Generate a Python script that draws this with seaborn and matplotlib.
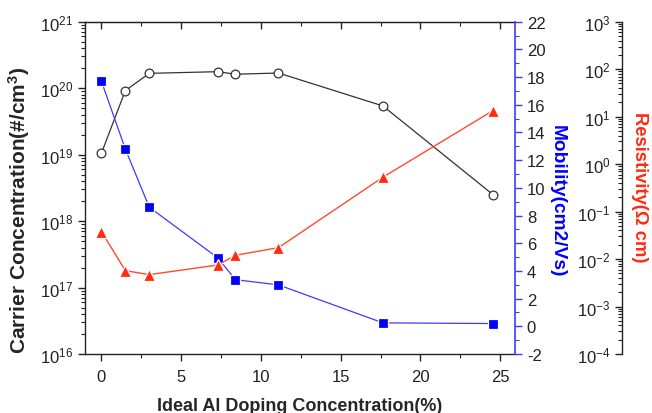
import numpy as np
import pandas as pd
import matplotlib
matplotlib.use("Agg")
import matplotlib.pyplot as plt
import matplotlib.ticker as mticker
import seaborn as sns

# ---- data ----
doping = [0, 1.5, 3, 7.3, 8.4, 11.1, 17.65, 24.55]
carrier = [1.05e19, 9.2e19, 1.67e20, 1.77e20, 1.62e20, 1.69e20, 5.4e19, 2.5e18]
mobility = [17.7, 12.8, 8.6, 4.94, 3.37, 2.99, 0.25, 0.2]
resistivity = [0.038, 0.0057, 0.0047, 0.0075, 0.012, 0.0174, 0.53, 13.4]
x_ticks = [0, 5, 10, 15, 20, 25]

df = pd.DataFrame({"doping": doping, "carrier": carrier,
                   "mobility": mobility, "resistivity": resistivity})

sns.set_style("ticks")
plt.rcParams["font.family"] = ["Liberation Sans", "DejaVu Sans"]
plt.rcParams["mathtext.fontset"] = "custom"
plt.rcParams["mathtext.rm"] = "Liberation Sans"
plt.rcParams["mathtext.bf"] = "Liberation Sans:bold"
plt.rcParams["axes.unicode_minus"] = False

BLUE = "#0000ff"
BLUE_LINE = "#3b3bff"
RED = "#ff2a10"
RED_LINE = "#ff4a30"
DARK = "#333333"
TXT = "#222222"

fig = plt.figure(figsize=(6.52, 4.14), dpi=100)
ax = fig.add_axes([85/652, 59/414, 430/652, 332.3/414])
ax2 = ax.twinx()
ax3 = ax.twinx()

# carrier concentration
sns.lineplot(data=df, x="doping", y="carrier", ax=ax, color=DARK, lw=0.9,
             marker="o", markersize=6.3, markerfacecolor="white",
             markeredgecolor=DARK, markeredgewidth=0.9)
# mobility
sns.lineplot(data=df, x="doping", y="mobility", ax=ax2, color=BLUE_LINE, lw=0.9,
             marker="s", markersize=6.8, markerfacecolor=BLUE,
             markeredgecolor="white", markeredgewidth=0.9)
# resistivity
sns.lineplot(data=df, x="doping", y="resistivity", ax=ax3, color=RED_LINE, lw=1.0,
             marker="^", markersize=8.3, markerfacecolor=RED,
             markeredgecolor="white", markeredgewidth=0.9)

# main axis
ax.set_xlim(-1.03, 25.93)
ax.set_yscale("log")
ax.set_ylim(1e16, 1e21)
ax.set_xticks(x_ticks)
ax.xaxis.set_minor_locator(mticker.MultipleLocator(2.5))
ax.yaxis.set_major_locator(mticker.LogLocator(base=10, numticks=10))
ax.yaxis.set_minor_locator(mticker.LogLocator(base=10, subs=np.arange(2, 10), numticks=20))
ax.yaxis.set_minor_formatter(mticker.NullFormatter())
for s in ["left", "bottom", "top"]:
    ax.spines[s].set_color(TXT)
    ax.spines[s].set_linewidth(1.0)
ax.spines["right"].set_visible(False)
ax.tick_params(axis="both", which="major", direction="out", length=5, width=1,
               labelsize=12, colors=TXT)
ax.tick_params(axis="both", which="minor", direction="out", length=3, width=0.8,
               colors=TXT)
ax.tick_params(axis="x", pad=6)
ax.set_xlabel("Ideal Al Doping Concentration(%)", fontsize=13, fontweight="bold")
ax.set_ylabel("Carrier Concentration(#/cm$\\mathbf{^3}$)", fontsize=15, fontweight="bold")
ax.xaxis.set_label_coords(0.5, -0.129)
ax.yaxis.set_label_coords(-0.124, 0.436)

top = ax.secondary_xaxis("top")
top.set_xticks(x_ticks)
top.xaxis.set_minor_locator(mticker.MultipleLocator(2.5))
top.tick_params(which="major", direction="in", length=5, width=1, labeltop=False, colors=TXT)
top.tick_params(which="minor", direction="in", length=3, width=0.8, labeltop=False, colors=TXT)
top.spines["top"].set_color(TXT)

# mobility axis
ax2.set_ylim(-2, 22)
ax2.yaxis.set_major_locator(mticker.MultipleLocator(2))
ax2.yaxis.set_minor_locator(mticker.MultipleLocator(1))
for s in ["left", "top", "bottom"]:
    ax2.spines[s].set_visible(False)
ax2.spines["right"].set_color(BLUE_LINE)
ax2.spines["right"].set_linewidth(1.2)
ax2.tick_params(axis="y", which="major", direction="out", length=5, width=1,
                color=BLUE_LINE, labelcolor=TXT, labelsize=12)
ax2.tick_params(axis="y", which="minor", direction="out", length=3, width=0.8,
                color=BLUE_LINE)
ax2.set_ylabel("Mobility(cm2/Vs)", fontsize=13.8, fontweight="bold", color=BLUE,
               rotation=-90)
ax2.yaxis.set_label_coords(1.118, 0.463)

# resistivity axis
ax3.set_yscale("log")
ax3.set_ylim(1e-4, 1e3)
for s in ["right", "top", "bottom"]:
    ax3.spines[s].set_visible(False)
ax3.spines["left"].set_visible(True)
ax3.spines["left"].set_position(("axes", 1.249))
ax3.spines["left"].set_color(TXT)
ax3.spines["left"].set_linewidth(1.0)
ax3.yaxis.set_ticks_position("left")
ax3.yaxis.set_major_locator(mticker.LogLocator(base=10, numticks=12))
ax3.yaxis.set_minor_locator(mticker.LogLocator(base=10, subs=np.arange(2, 10), numticks=30))
ax3.yaxis.set_minor_formatter(mticker.NullFormatter())
ax3.tick_params(axis="y", which="major", direction="out", length=5, width=1,
                labelsize=12, colors=TXT)
ax3.tick_params(axis="y", which="minor", direction="out", length=3, width=0.8,
                colors=TXT)
ax3.yaxis.set_label_position("right")
ax3.set_ylabel("Resistivity(Ω cm)", fontsize=13.2, fontweight="bold", color=RED,
               rotation=-90)
ax3.yaxis.set_label_coords(1.31, 0.506)

ax2.set_xlabel("")
ax3.set_xlabel("")

fig.savefig("out.png", dpi=100)
